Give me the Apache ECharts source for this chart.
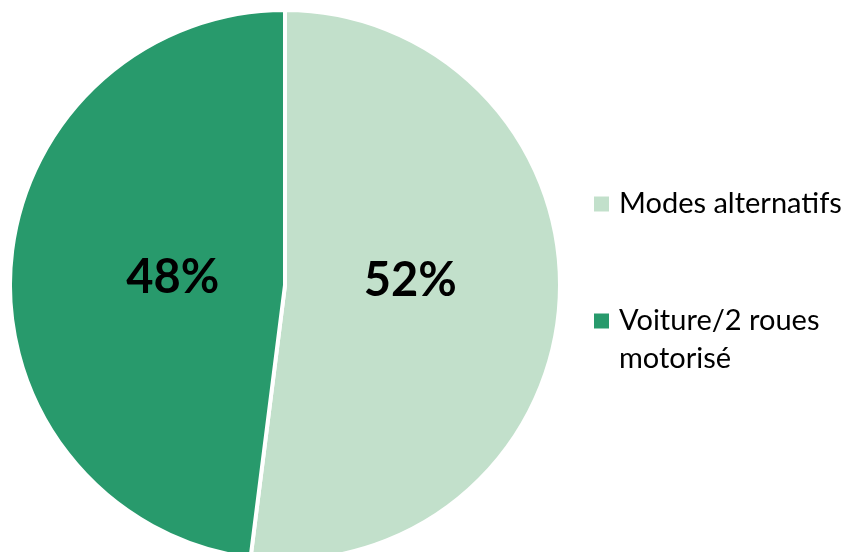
<!DOCTYPE html>
<html>
<head>
<meta charset="utf-8">
<script src="https://cdn.jsdelivr.net/npm/echarts@6/dist/echarts.min.js"></script>
<style>
  html, body { margin: 0; padding: 0; background: #fff; }
  #chart { width: 845px; height: 552px; }
</style>
</head>
<body>
<div id="chart"></div>
<script>
// parts des modes de déplacement
const categories = ['Modes alternatifs', 'Voiture/2 roues motorisé']
const values = [52, 48]
const colors = ['#c2e0cb', '#289a6c']

const chart = echarts.init(document.getElementById('chart'))

// decalage des etiquettes, comme dans l'original
const labelOffsets = [[-15, -13], [28, 2]]

chart.setOption({
  animation: false,
  legend: {
    orient: 'vertical',
    left: 587,
    top: 180,
    icon: 'rect',
    itemWidth: 17,
    itemHeight: 17,
    itemGap: 41,
    textStyle: {
      fontFamily: 'Lato',
      fontSize: 29,
      lineHeight: 38,
      color: '#000',
      padding: [0, 0, 0, 4]
    },
    data: categories,
    formatter: function(name) {
      // ligne vide en tete pour garder le carré sur la 1re ligne
      if (name.indexOf(' motorisé') > 0) {
        return ' \n' + name.replace(' motorisé', '\nmotorisé')
      }
      return name
    }
  },
  series: [
    {
      type: 'pie',
      center: [285, 285],
      radius: 275,
      startAngle: 90,
      clockwise: true,
      itemStyle: {
        borderColor: '#fff',
        borderWidth: 4
      },
      label: {
        show: true,
        position: 'inside',
        formatter: '{c}%',
        fontFamily: 'Lato',
        fontWeight: 'bold',
        fontSize: 47,
        color: '#000'
      },
      labelLine: { show: false },
      data: categories.map((name, i) => ({
        name: name,
        value: values[i],
        itemStyle: { color: colors[i] },
        label: { offset: labelOffsets[i] }
      }))
    }
  ]
})
</script>
</body>
</html>
